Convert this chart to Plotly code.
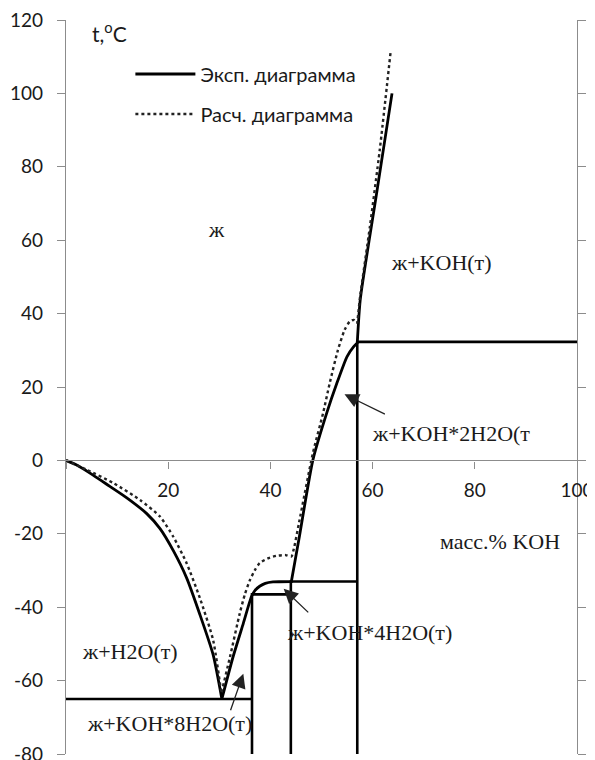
import plotly.graph_objects as go

# experimental liquidus (масс.% KOH, t °C); corners repeated so the spline keeps them sharp
exp_x = [0, 2, 5.3, 8.5, 11.9, 15.8, 18.4, 21, 23.6, 26.2, 28.8, 30.5, 30.5,
         32.7, 34.7, 36.3, 37.0, 37.9, 39.0, 40.5, 44.1, 44.1,
         45.7, 48.3, 51, 53, 55, 56.3, 57, 57, 57.6, 60.7, 63.8]
exp_t = [0, -1.2, -4, -7, -10.2, -14.5, -18.6, -24.6, -32, -42, -53, -65, -65,
         -53.5, -44.4, -37.1, -35.4, -34.3, -33.5, -33.1, -33, -33,
         -20.5, 0, 12.8, 21, 28.3, 31, 32, 32, 44, 72, 100]

# calculated liquidus
calc_x = [0, 4, 9.3, 14.5, 18.4, 21, 23.6, 26.2, 28.8, 30.4, 30.4,
          32.1, 34, 35, 36, 37, 37.9, 39.5, 41.2, 43, 44.1,
          44.6, 45.6, 48.3, 50.3, 51.6, 53.2, 54.5, 55.5, 56.3, 57, 57,
          57.5, 59.5, 61.4, 63.5]
calc_t = [0, -2.5, -6.2, -10.8, -15.3, -20.8, -28, -37.5, -49, -63.4, -63.4,
          -53.5, -41.7, -36.5, -32.6, -29.8, -28, -26.7, -26, -25.8, -26.2,
          -24, -17, 1.9, 12.8, 21, 30, 35.5, 37.8, 38.3, 37.4, 37.4,
          44, 64, 84.6, 111]

# phase boundary lines
phase_x = [0, 36.4, None, 36.4, 36.4, 44, None, 44, 44, 57, None, 57, 57, 100]
phase_t = [-65, -65, None, -80, -36.5, -36.5, None, -80, -33, -33, None, -80, 32.3, 32.3]

y_ticks = [-80, -60, -40, -20, 0, 20, 40, 60, 80, 100, 120]
y_labels = ["-80", "-60", "-40", "-20", "0", "20", "40", "60", "80", "100", "120"]
x_ticks = [0, 20, 40, 60, 80, 100]
x_labels = ["", "20", "40", "60", "80", "100"]

# region labels: text, x, t
regions = [
    ("ж", 27.3, 62.8),
    ("ж+KOH(т)", 63.3, 54),
    ("ж+KOH*2H2O(т", 59.4, 7.2),
    ("масс.% KOH", 72.7, -22),
    ("ж+KOH*4H2O(т)", 42.8, -47),
    ("ж+H2O(т)", 2.7, -52),
    ("ж+KOH*8H2O(т)", 3.7, -71.6),
]

# arrows: head x, head t, tail x, tail t
arrows = [
    (54.5, 18, 62.7, 12.4),
    (42.6, -35, 47.7, -41.8),
    (34.7, -58.1, 32.1, -68.5),
]

fig = go.Figure()
fig.add_trace(go.Scatter(x=phase_x, y=phase_t, mode="lines",
                         line=dict(color="black", width=2.6),
                         showlegend=False, hoverinfo="skip"))
fig.add_trace(go.Scatter(x=exp_x, y=exp_t, mode="lines", name="Эксп. диаграмма",
                         legendgroup="a",
                         line=dict(color="black", width=2.8, shape="spline", smoothing=0.6)))
fig.add_trace(go.Scatter(x=calc_x, y=calc_t, mode="lines", name="Расч. диаграмма",
                         legendgroup="b",
                         line=dict(color="#222", width=2.4, dash="dot",
                                   shape="spline", smoothing=0.6)))

serif = dict(family="Liberation Serif", size=22, color="#1a1a1a")
for txt, xv, tv in regions:
    fig.add_annotation(x=xv, y=tv, text=txt, showarrow=False,
                       xanchor="left", yanchor="middle", font=serif)

for hx, ht, tx, tt in arrows:
    fig.add_annotation(x=hx, y=ht, ax=tx, ay=tt, axref="x", ayref="y",
                       text="", showarrow=True, arrowhead=2, arrowsize=2.2,
                       arrowwidth=1.3, arrowcolor="#222")

fig.add_annotation(x=8.6, y=116.6, text="t,<sup>o</sup>C", showarrow=False,
                   font=dict(family="Lato", size=21, color="#1a1a1a"))

# the page body adds an 8px offset, margins account for it
fig.update_layout(
    width=595, height=760,
    margin=dict(l=58, r=26, t=12, b=14),
    plot_bgcolor="white", paper_bgcolor="white",
    font=dict(family="Lato", size=19, color="#1a1a1a"),
    legend=dict(x=0.126, y=0.953, xanchor="left", yanchor="top",
                bgcolor="rgba(0,0,0,0)", itemwidth=60, tracegroupgap=11,
                font=dict(family="Lato", size=20, color="#1a1a1a")),
    xaxis=dict(range=[0, 100], tickvals=x_ticks, ticktext=x_labels,
               showgrid=False, zeroline=False, showline=True, automargin=False,
               linecolor="#8c8c8c", linewidth=1.2,
               ticks="outside", ticklen=7, tickcolor="#8c8c8c",
               anchor="free", position=0.4, ticklabelstandoff=6,
               ticklabeloverflow="allow"),
    yaxis=dict(range=[-80, 120], tickvals=y_ticks, ticktext=y_labels,
               showgrid=False, zeroline=False, showline=True, automargin=False,
               linecolor="#8c8c8c", linewidth=1.2, mirror="ticks",
               ticks="outside", ticklen=8, tickcolor="#8c8c8c",
               ticklabelstandoff=10, ticklabeloverflow="allow"),
)

fig.write_html("out.html")
